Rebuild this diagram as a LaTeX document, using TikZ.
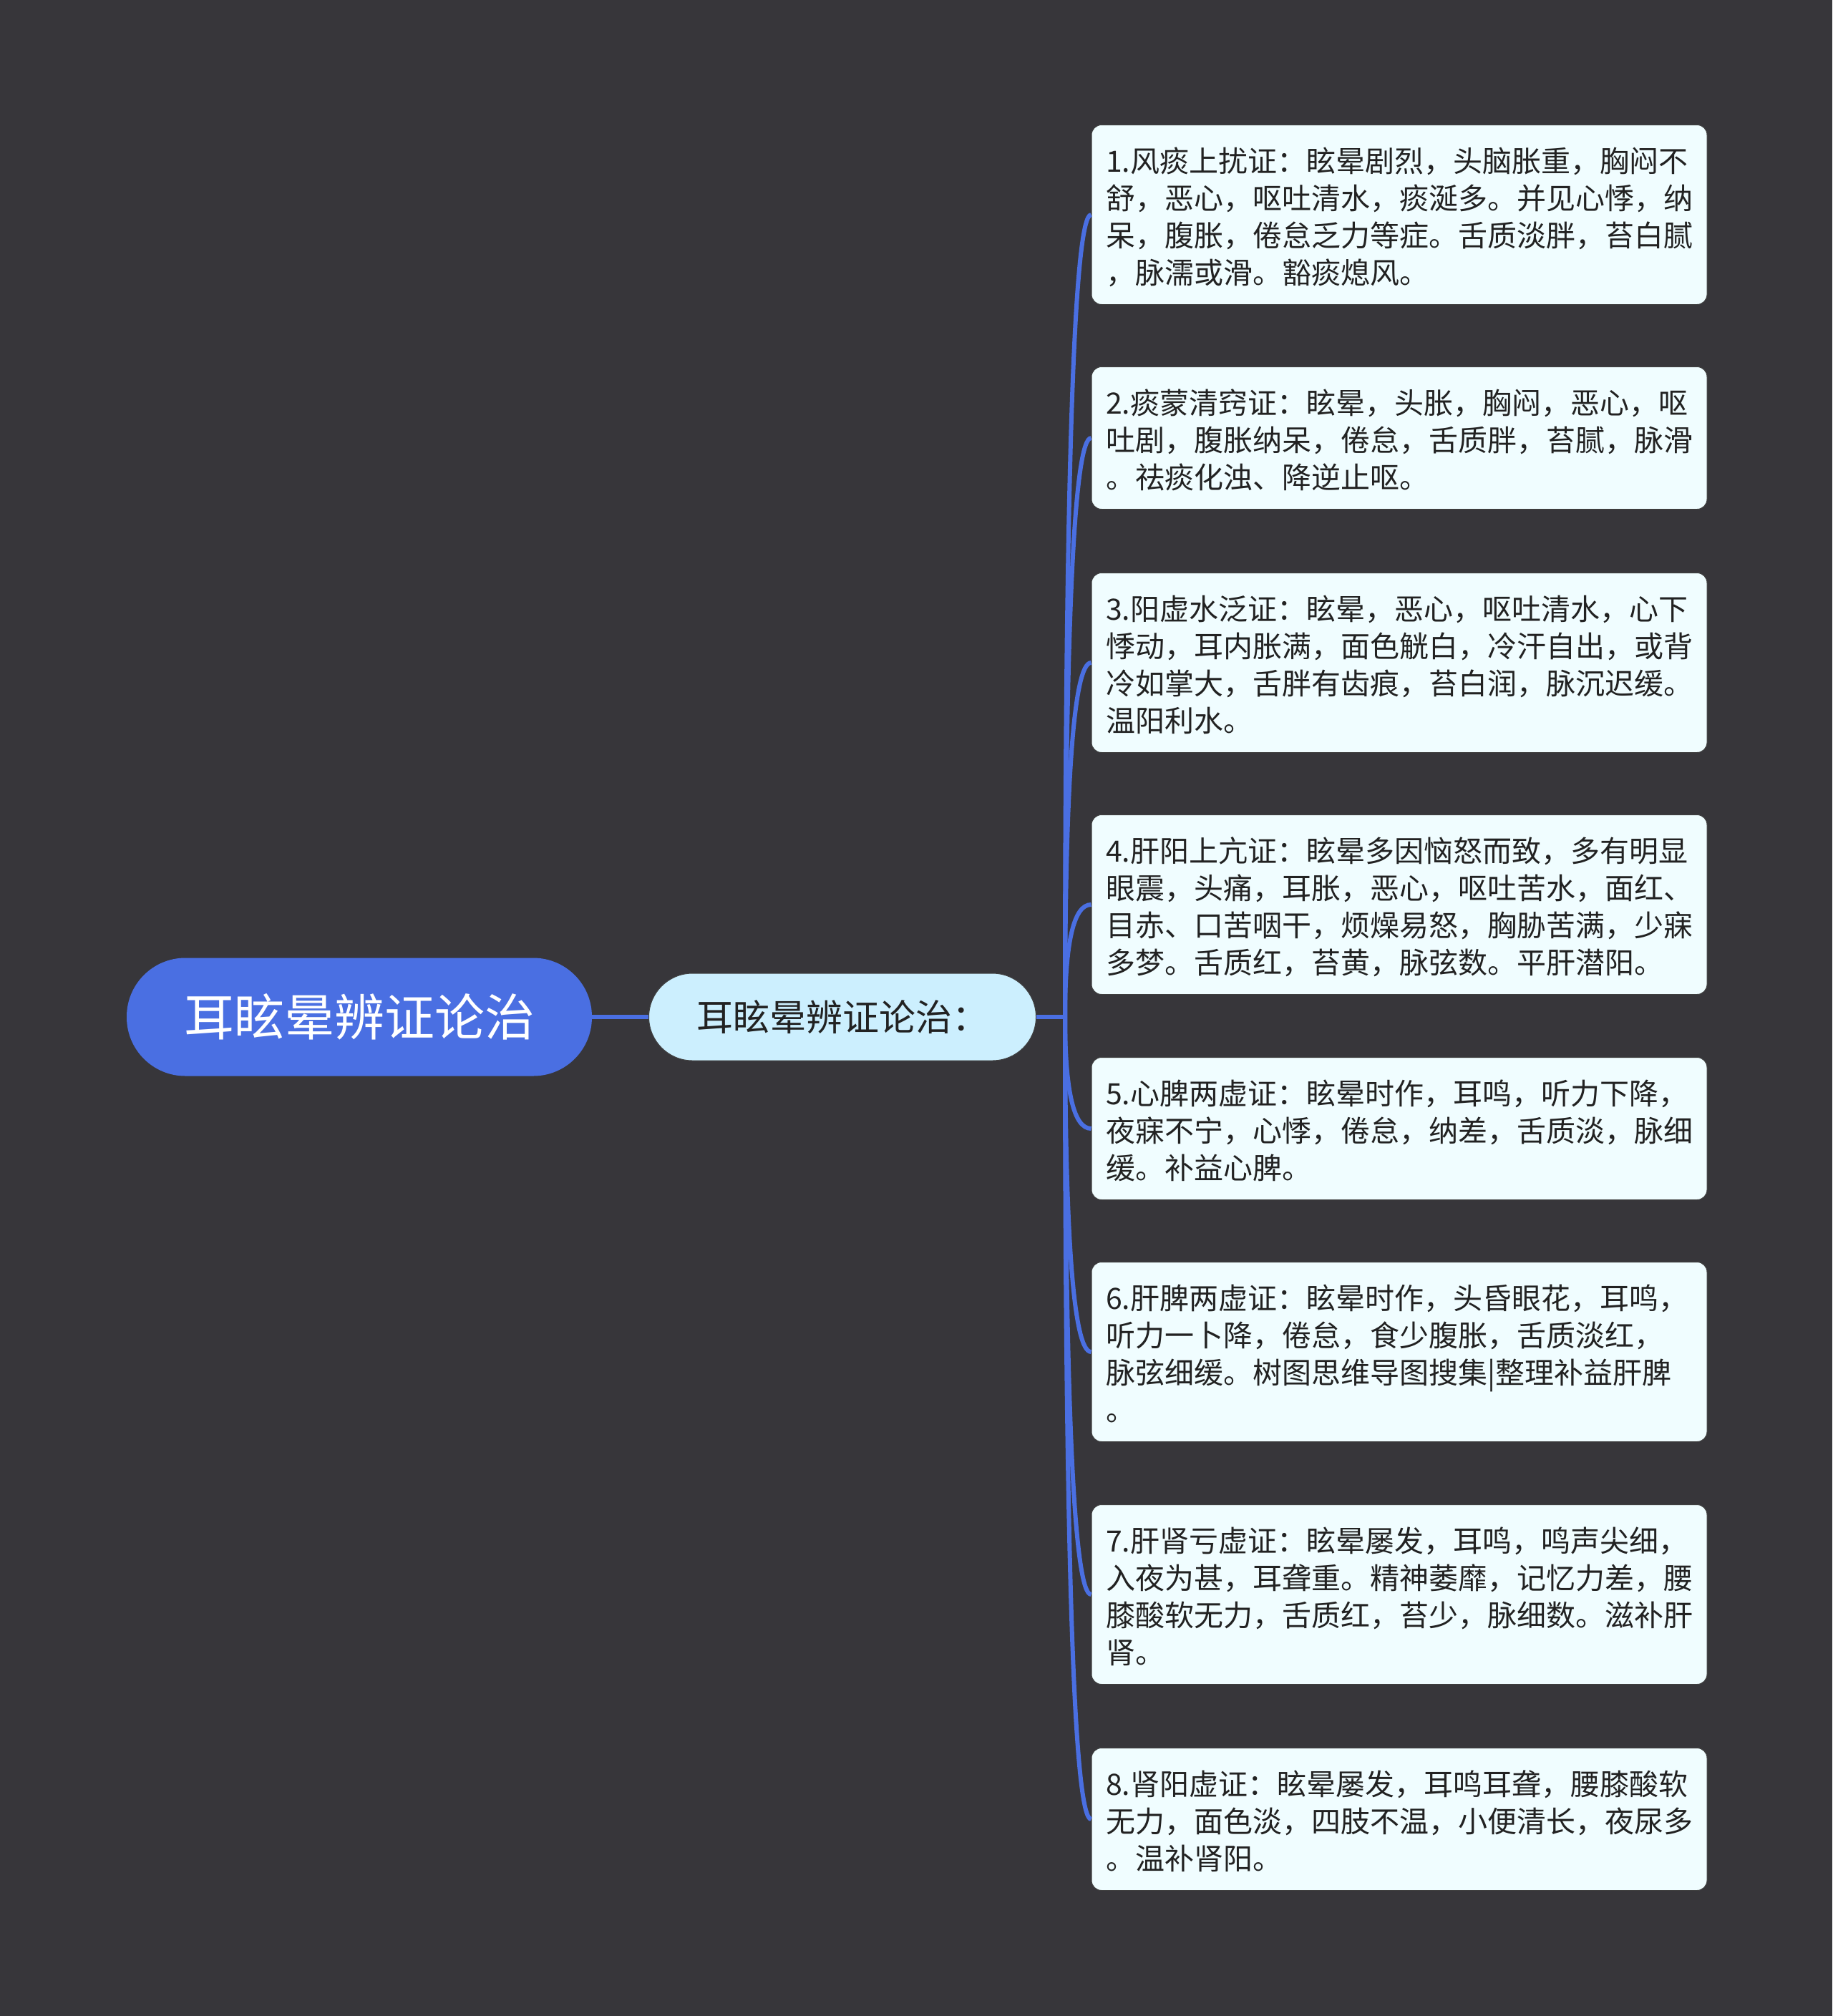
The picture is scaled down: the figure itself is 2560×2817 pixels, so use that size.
\documentclass[tikz,border=0pt]{standalone}
\usepackage{fontspec}
\usepackage{tikz}
\usetikzlibrary{calc}
\setmainfont{Noto Sans CJK SC}
\definecolor{bgdark}{RGB}{55, 54, 58}
\definecolor{rootblue}{RGB}{74, 111, 226}
\definecolor{subcyan}{RGB}{204, 239, 254}
\definecolor{cardbg}{RGB}{240, 253, 255}
\definecolor{inkdark}{RGB}{34, 34, 34}
% struts that give the cards their top and bottom padding
\newcommand{\cardtext}[1]{\rule{0pt}{66pt}#1\rule[-29pt]{0pt}{29pt}}

\begin{document}
\begin{tikzpicture}[x=1pt, y=-1pt,
    root/.style={fill=rootblue, text=white, rounded corners=82pt,
      minimum width=650pt, minimum height=165pt, inner sep=0pt,
      font=\fontsize{70pt}{84pt}\selectfont},
    branch/.style={fill=subcyan, draw=black!75, line width=1pt, text=inkdark,
      rounded corners=61pt, minimum width=541pt, minimum height=122pt,
      inner sep=0pt, font=\fontsize{51pt}{61pt}\selectfont},
    card/.style={fill=cardbg, draw=black!75, line width=1pt, text=inkdark,
      rounded corners=14pt, text width=820pt, inner xsep=20pt, inner ysep=0pt,
      align=left, font=\fontsize{41pt}{52pt}\selectfont},
    link/.style={draw=rootblue, line width=6pt}]
  % background
  \fill[bgdark] (0,0) rectangle (2560,2817);
  % central topic and its branch
  \node[root] (root) at (502,1421) {耳眩晕辨证论治};
  \node[branch] (sub) at (1177,1421) {耳眩晕辨证论治：};
  % the eight syndromes
  \node[card] (c1) at (1955,300) {\cardtext{1.风痰上扰证：眩晕剧烈，头脑胀重，胸闷不\\
    舒，恶心，呕吐清水，痰涎多。并见心悸，纳\\
    呆，腹胀，倦怠乏力等症。舌质淡胖，苔白腻\\
    ，脉濡或滑。豁痰熄风。}};
  \node[card] (c2) at (1955,612) {\cardtext{2.痰蒙清窍证：眩晕，头胀，胸闷，恶心，呕\\
    吐剧，腹胀纳呆，倦怠，舌质胖，苔腻，脉滑\\
    。祛痰化浊、降逆止呕。}};
  \node[card] (c3) at (1955,926) {\cardtext{3.阳虚水泛证：眩晕，恶心，呕吐清水，心下\\
    悸动，耳内胀满，面色觥白，冷汗自出，或背\\
    冷如掌大，舌胖有齿痕，苔白润，脉沉迟缓。\\
    温阳利水。}};
  \node[card] (c4) at (1955,1264) {\cardtext{4.肝阳上亢证：眩晕多因恼怒而致，多有明显\\
    眼震，头痛，耳胀，恶心，呕吐苦水，面红、\\
    目赤、口苦咽干，烦燥易怒，胸胁苦满，少寐\\
    多梦。舌质红，苔黄，脉弦数。平肝潜阳。}};
  \node[card] (c5) at (1955,1577) {\cardtext{5.心脾两虚证：眩晕时作，耳鸣，听力下降，\\
    夜寐不宁，心悸，倦怠，纳差，舌质淡，脉细\\
    缓。补益心脾。}};
  \node[card] (c6) at (1955,1889) {\cardtext{6.肝脾两虚证：眩晕时作，头昏眼花，耳鸣，\\
    听力一卜降，倦怠，食少腹胀，舌质淡红，\\
    脉弦细缓。树图思维导图搜集|整理补益肝脾\\
    。}};
  \node[card] (c7) at (1955,2228) {\cardtext{7.肝肾亏虚证：眩晕屡发，耳鸣，鸣声尖细，\\
    入夜为甚，耳聋重。精神萎靡，记忆力差，腰\\
    膝酸软无力，舌质红，苔少，脉细数。滋补肝\\
    肾。}};
  \node[card] (c8) at (1955,2542) {\cardtext{8.肾阳虚证：眩晕屡发，耳鸣耳聋，腰膝酸软\\
    无力，面色淡，四肢不温，小便清长，夜尿多\\
    。温补肾阳。}};
  % connectors
  \coordinate (hub) at ($(sub.east)+(40,0)$);
  \draw[link] (root) -- (sub);
  \draw[link] (sub.east) -- (hub);
  \foreach \i in {1,...,8}
    \draw[link] (hub) .. controls ($(hub)!2/3!(hub |- c\i.west)$)
      and ($(c\i.west)!2/3!(hub |- c\i.west)$) .. (c\i.west);
\end{tikzpicture}
\end{document}
